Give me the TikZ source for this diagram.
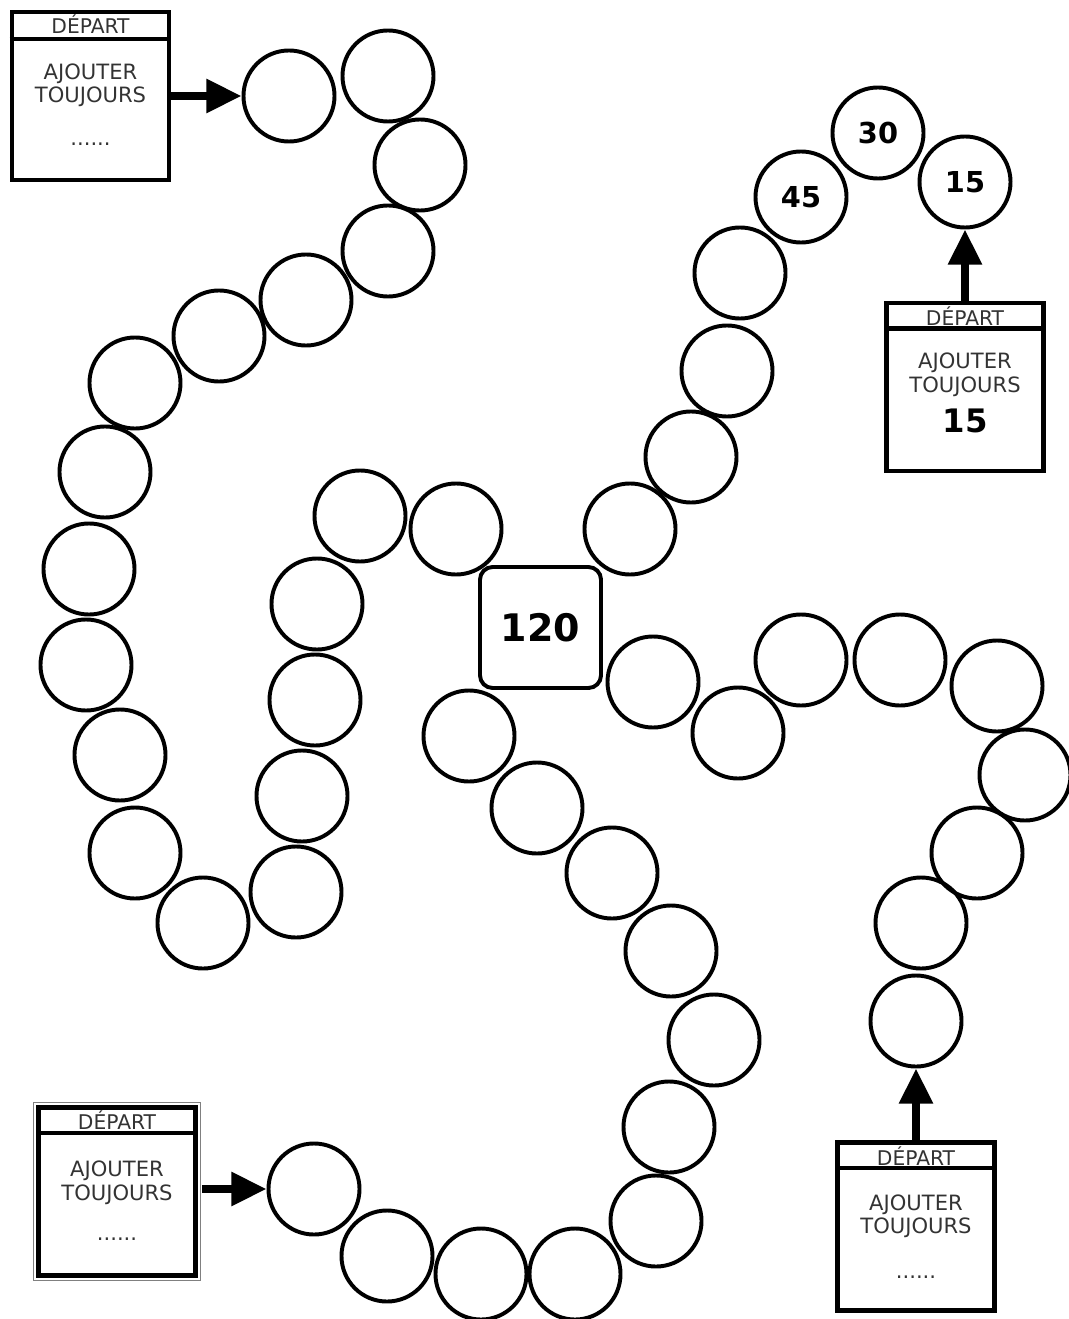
\documentclass[tikz,border=0pt]{standalone}
\usepackage{fontspec}
\setmainfont{DejaVu Sans}
\usetikzlibrary{arrows.meta,calc}
\tikzset{
  cell/.style={draw,circle,line width=2.8pt,minimum size=2.275cm,inner sep=0pt,font=\bfseries\fontsize{20.5}{20.5}\selectfont},
  goal/.style={draw,rectangle,rounded corners=9pt,line width=2.8pt,minimum size=3.025cm,inner sep=0pt,font=\bfseries\fontsize{27}{27}\selectfont},
  startbox/.style={draw,rectangle,line width=3.5pt,minimum width=3.925cm,minimum height=4.2cm},
  headtxt/.style={anchor=base,font=\fontsize{14.4}{15}\selectfont,text=black!80,inner sep=0pt},
  bodytxt/.style={anchor=base,font=\fontsize{15}{17}\selectfont,text=black!80,inner sep=0pt},
  numtxt/.style={anchor=base,font=\bfseries\fontsize{23}{23}\selectfont,inner sep=0pt},
  go/.style={-{Triangle[length=25pt,width=23pt]},line width=5.7pt}
}
\begin{document}
\begin{tikzpicture}[x=0.025cm,y=-0.025cm]
  \useasboundingbox (0,0) rectangle (1068,1319);
  % centre
  \node[goal] (fin) at (540.5,627.5) {120};
  % chemin haut gauche
  \foreach \i/\x/\y in {1/289/96,2/388/76,3/420/165,4/388/251,5/306/300,6/219/336,
      7/135/383,8/105/472,9/89/569,10/86/665,11/120/755,12/135/853,13/203/923,
      14/296/892,15/302/796,16/315/700,17/317/604,18/360/516,19/456/529}
    \node[cell] (a\i) at (\x,\y) {};
  % chemin haut droite
  \node[cell] (b1) at (965,182) {15};
  \node[cell] (b2) at (878,133) {30};
  \node[cell] (b3) at (801,197) {45};
  \foreach \i/\x/\y in {4/740/273,5/727/371,6/691/457,7/630/529}
    \node[cell] (b\i) at (\x,\y) {};
  % chemin bas droite
  \foreach \i/\x/\y in {1/916/1021,2/921/923,3/977/853,4/1025/775,5/997/686,
      6/900/660,7/801/660,8/738/733,9/653/682}
    \node[cell] (c\i) at (\x,\y) {};
  % chemin bas gauche
  \foreach \i/\x/\y in {1/314/1189,2/387/1256,3/481/1274,4/575/1274,5/656/1221,
      6/669/1127,7/714/1040,8/671/951,9/612/873,10/537/808,11/469/736}
    \node[cell] (d\i) at (\x,\y) {};

  % cases depart
  \node[startbox] (dA) at (90.5,96) {};
  \draw[line width=3.5pt] ($(dA.north west)+(0,29.5)$) -- ($(dA.north east)+(0,29.5)$);
  \node[headtxt] (hA) at (90.5,33.5) {DÉPART};
  \node[bodytxt] (tA) at (90.5,80) {AJOUTER};
  \node[bodytxt] (uA) at (90.5,103) {TOUJOURS};
  \node[bodytxt] (nA) at (90.5,146) {......};

  \node[startbox] (dB) at (965,387) {};
  \draw[line width=3.5pt] ($(dB.north west)+(0,28)$) -- ($(dB.north east)+(0,28)$);
  \node[headtxt] (hB) at (965,326) {DÉPART};
  \node[bodytxt] (tB) at (965,368) {AJOUTER};
  \node[bodytxt] (uB) at (965,392) {TOUJOURS};
  \node[numtxt] (nB) at (965,432) {15};

  \node[startbox] (dC) at (916,1226.5) {};
  \draw[line width=3.5pt] ($(dC.north west)+(0,28)$) -- ($(dC.north east)+(0,28)$);
  \node[headtxt] (hC) at (916,1165.5) {DÉPART};
  \node[bodytxt] (tC) at (916,1210) {AJOUTER};
  \node[bodytxt] (uC) at (916,1233) {TOUJOURS};
  \node[bodytxt] (nC) at (916,1278) {......};

  \node[startbox] (dD) at (117,1191.5) {};
  \draw[line width=0.7pt,black!50] ($(dD.south west)+(-2.5,2.5)$) rectangle ($(dD.north east)+(2.5,-2.5)$);
  \draw[line width=3.5pt] ($(dD.north west)+(0,28)$) -- ($(dD.north east)+(0,28)$);
  \node[headtxt] (hD) at (117,1129) {DÉPART};
  \node[bodytxt] (tD) at (117,1176) {AJOUTER};
  \node[bodytxt] (uD) at (117,1200) {TOUJOURS};
  \node[bodytxt] (nD) at (117,1240) {......};

  % fleches
  \draw[go] (dA.east |- a1.west) -- (a1.west);
  \draw[go] (dB.north -| b1.south) -- (b1.south);
  \draw[go] (dC.north -| c1.south) -- (c1.south);
  \draw[go,shorten <=3pt] (dD.east |- d1.west) -- (d1.west);
\end{tikzpicture}
\end{document}
